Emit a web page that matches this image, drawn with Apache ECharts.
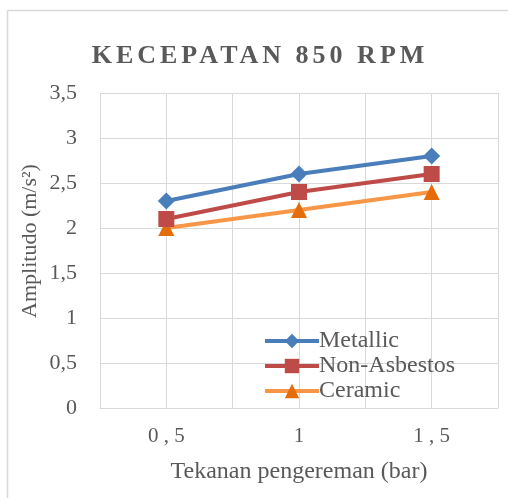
<!DOCTYPE html>
<html><head><meta charset="utf-8">
<script src="https://cdn.jsdelivr.net/npm/echarts@6/dist/echarts.min.js"></script>
<style>html,body{margin:0;padding:0;background:#fff}#c{width:508px;height:498px}</style>
</head><body><div id="c"></div>
<script>
var titleText = 'KECEPATAN 850 RPM';
var xValues = [0.5, 1, 1.5];
var xTickLabels = {'0.5': '0 , 5', '1': '1', '1.5': '1 , 5'};
var seriesNames = ['Metallic', 'Non-Asbestos', 'Ceramic'];
var metallic = [2.3, 2.6, 2.8];
var nonAsbestos = [2.1, 2.4, 2.6];
var ceramic = [2.0, 2.2, 2.4];
var yName = 'Amplitudo (m/s²)';
var xName = 'Tekanan pengereman (bar)';

// Letter-spaced title, as in the reference (canvas letterSpacing for that one text only)
(function(){
  var proto = CanvasRenderingContext2D.prototype;
  var orig = proto.fillText;
  proto.fillText = function(t, x, y, w){
    if (t === titleText && 'letterSpacing' in this) {
      var old = this.letterSpacing;
      this.letterSpacing = '4px';
      var r = w === undefined ? orig.call(this, t, x + 2, y) : orig.call(this, t, x + 2, y, w);
      this.letterSpacing = old;
      return r;
    }
    return w === undefined ? orig.call(this, t, x, y) : orig.call(this, t, x, y, w);
  };
})();

var font = '"Liberation Serif", "Times New Roman", serif';
var txt = '#595959';
function pairs(v){ return xValues.map(function(x,i){ return [x, v[i]]; }); }
var colors = ['#4a7ebb', '#be4b48', '#f79646'];
var markerColors = ['#4a7ebb', '#be4b48', '#e46c0a'];
var symbols = ['diamond', 'rect', 'triangle'];
var sizes = [17, 16, 16];
var data = [metallic, nonAsbestos, ceramic];

var chart = echarts.init(document.getElementById('c'), null, {renderer: 'canvas'});
chart.setOption({
  animation: false,
  title: {text: titleText, left: 253, top: 38, textAlign: 'center',
    textStyle: {fontFamily: font, fontWeight: 'bold', fontSize: 26, color: txt}},
  grid: {left: 100, right: 10, top: 93, bottom: 90, containLabel: false},
  legend: {
    orient: 'vertical', left: 258, top: 324, itemWidth: 54, itemHeight: 18, itemGap: 1,
    data: seriesNames,
    lineStyle: {width: 4},
    textStyle: {fontFamily: font, fontSize: 24, lineHeight: 24, color: txt, padding: [0,0,0,-5]}
  },
  xAxis: {
    type: 'value', min: 0.25, max: 1.75, interval: 0.25,
    axisLine: {show: true, lineStyle: {color: '#d9d9d9', width: 1}},
    axisTick: {show: false},
    splitLine: {show: true, lineStyle: {color: '#d9d9d9', width: 1}},
    axisLabel: {fontFamily: font, fontSize: 21, color: txt, margin: 18,
      showMinLabel: true, showMaxLabel: true,
      formatter: function(v){ var k = String(+v.toFixed(2)); return xTickLabels[k] || ''; }},
    name: xName, nameLocation: 'middle', nameGap: 52,
    nameTextStyle: {fontFamily: font, fontSize: 24, color: txt}
  },
  yAxis: {
    type: 'value', min: 0, max: 3.5, interval: 0.5,
    axisLine: {show: false}, axisTick: {show: false},
    splitLine: {show: true, lineStyle: {color: '#d9d9d9', width: 1}},
    axisLabel: {fontFamily: font, fontSize: 22, color: txt, margin: 23,
      formatter: function(v){ return String(v).replace('.', ','); }}
  },
  graphic: [
    {type: 'line', shape: {x1: 7.5, y1: 10.5, x2: 508, y2: 10.5}, style: {stroke: '#d9d9d9', lineWidth: 1.5}, silent: true},
    {type: 'line', shape: {x1: 7.5, y1: 10.5, x2: 7.5, y2: 498}, style: {stroke: '#d9d9d9', lineWidth: 1.5}, silent: true},
    {type: 'text', x: 30, y: 241, rotation: Math.PI/2,
      style: {text: yName, font: '22px ' + font, fill: txt, textAlign: 'center', textVerticalAlign: 'middle'}}
  ],
  series: seriesNames.map(function(n,i){
    return {
      name: n, type: 'line', data: pairs(data[i]),
      symbol: symbols[i], symbolSize: sizes[i],
      lineStyle: {color: colors[i], width: 4},
      itemStyle: {color: markerColors[i], borderColor: markerColors[i], borderWidth: 0},
      z: 3 - i
    };
  })
});
</script></body></html>
